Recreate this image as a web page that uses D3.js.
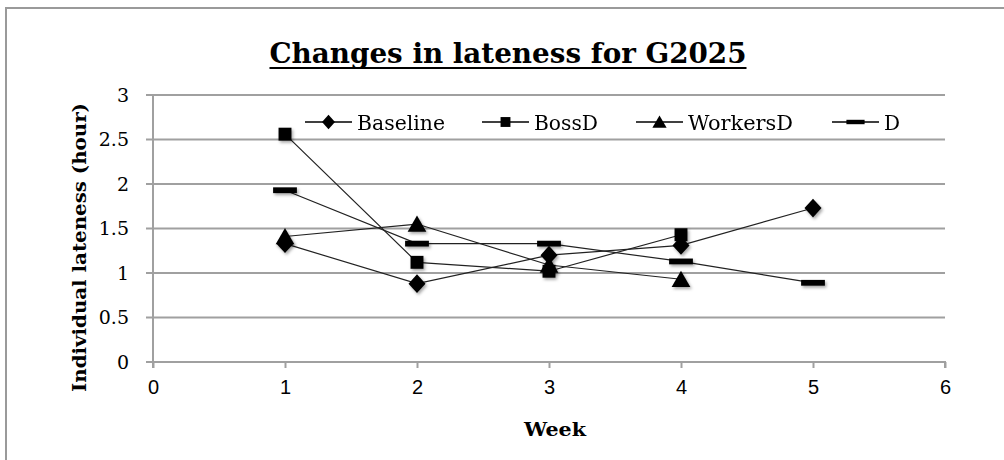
<!DOCTYPE html>
<html>
<head>
<meta charset="utf-8">
<script src="https://cdn.jsdelivr.net/npm/d3@7"></script>
<style>
  body { margin: 0; background: #fff; }
  svg { display: block; }
</style>
</head>
<body>
<svg id="chart"></svg>
<script>
const weeks = [1, 2, 3, 4, 5];
const baseline = [1.33, 0.88, 1.2, 1.31, 1.73];
const bossD = [2.56, 1.12, 1.02, 1.43];
const workersD = [1.41, 1.55, 1.09, 0.93];
const dOnly = [1.93, 1.33, 1.33, 1.13, 0.89];
const seriesNames = ["Baseline", "BossD", "WorkersD", "D"];
const xTicks = [0, 1, 2, 3, 4, 5, 6];
const yTicks = [0, 0.5, 1, 1.5, 2, 2.5, 3];

const width = 1004;
const height = 460;
const margin = { top: 95, right: 59, bottom: 98, left: 153 };

const series = [
  { name: seriesNames[0], values: baseline, shape: "diamond" },
  { name: seriesNames[1], values: bossD, shape: "square" },
  { name: seriesNames[2], values: workersD, shape: "triangle" },
  { name: seriesNames[3], values: dOnly, shape: "dash" }
];

const svg = d3.select("#chart").attr("width", width).attr("height", height);

const defs = svg.append("defs");
const shadow = defs.append("filter").attr("id", "shadow")
  .attr("x", "-50%").attr("y", "-50%").attr("width", "200%").attr("height", "200%");
shadow.append("feDropShadow")
  .attr("dx", 1.5).attr("dy", 2).attr("stdDeviation", 1.5)
  .attr("flood-color", "#000").attr("flood-opacity", 0.35);

// chart frame
svg.append("rect")
  .attr("x", 6).attr("y", 8)
  .attr("width", width + 20).attr("height", height + 20)
  .attr("fill", "none").attr("stroke", "#9a9a9a").attr("stroke-width", 2);

const xScale = d3.scaleLinear().domain([0, 6]).range([margin.left, width - margin.right]);
const yScale = d3.scaleLinear().domain([0, 3]).range([height - margin.bottom, margin.top]);

// gridlines
svg.append("g")
  .selectAll("line")
  .data(yTicks.filter(d => d > 0))
  .join("line")
  .attr("x1", xScale(0) - 7).attr("x2", xScale(6))
  .attr("y1", d => yScale(d)).attr("y2", d => yScale(d))
  .attr("stroke", "#a0a0a0").attr("stroke-width", 2);

// x axis
const xAxis = d3.axisBottom(xScale).tickValues(xTicks).tickSize(6).tickPadding(12)
  .tickFormat(d3.format("d"));
const gx = svg.append("g")
  .attr("transform", `translate(0, ${yScale(0)})`)
  .call(xAxis);
gx.select(".domain").attr("stroke", "#a0a0a0").attr("stroke-width", 2)
  .attr("d", `M${xScale(0) - 7},0H${xScale(6)}V6`);
gx.selectAll(".tick line").attr("stroke", "#a0a0a0").attr("stroke-width", 2);
gx.selectAll(".tick text")
  .attr("fill", "#000")
  .style("font-family", "'Liberation Sans', Arial, sans-serif")
  .style("font-size", "20px");

// y axis
const yAxis = d3.axisLeft(yScale).tickValues(yTicks).tickSize(0).tickPadding(24)
  .tickFormat(d => d);
const gy = svg.append("g")
  .attr("transform", `translate(${xScale(0)}, 0)`)
  .call(yAxis);
gy.select(".domain").attr("stroke", "#a0a0a0").attr("stroke-width", 2)
  .attr("d", `M0,${yScale(3)}V${yScale(0) + 6}`);
gy.selectAll(".tick text")
  .attr("fill", "#000")
  .style("font-family", "'DejaVu Serif', serif")
  .style("font-size", "19px");

// axis titles
svg.append("text")
  .attr("transform", `translate(79, ${(yScale(0) + yScale(3)) / 2 + 19}) rotate(-90)`)
  .attr("text-anchor", "middle")
  .attr("dominant-baseline", "central")
  .style("font-family", "'DejaVu Serif', serif")
  .style("font-weight", "bold")
  .style("font-size", "18px")
  .attr("textLength", 289)
  .attr("lengthAdjust", "spacingAndGlyphs")
  .text("Individual lateness (hour)");

svg.append("text")
  .attr("x", (xScale(0) + xScale(6)) / 2 + 6)
  .attr("y", 436)
  .attr("text-anchor", "middle")
  .style("font-family", "'DejaVu Serif', serif")
  .style("font-weight", "bold")
  .style("font-size", "19px")
  .attr("textLength", 62)
  .attr("lengthAdjust", "spacingAndGlyphs")
  .text("Week");

// title
svg.append("text")
  .attr("x", 508)
  .attr("y", 63)
  .attr("text-anchor", "middle")
  .style("font-family", "'DejaVu Serif', serif")
  .style("font-weight", "bold")
  .style("font-size", "28px")
  .attr("textLength", 477)
  .attr("lengthAdjust", "spacingAndGlyphs")
  .text("Changes in lateness for G2025");
svg.append("line")
  .attr("x1", 508 - 238.5).attr("x2", 508 + 238.5)
  .attr("y1", 68).attr("y2", 68)
  .attr("stroke", "#000").attr("stroke-width", 2);

function markerPath(shape, s) {
  if (shape === "diamond") return `M0,${-s * 0.55}L${s * 0.5},0L0,${s * 0.55}L${-s * 0.5},0Z`;
  if (shape === "square") { const h = s * 0.38; return `M${-h},${-h}H${h}V${h}H${-h}Z`; }
  if (shape === "triangle") return `M0,${-s * 0.5}L${s * 0.55},${s * 0.45}H${-s * 0.55}Z`;
  return `M${-s * 0.7},${-s * 0.17}H${s * 0.7}V${s * 0.17}H${-s * 0.7}Z`;
}

const line = d3.line()
  .x((d, i) => xScale(weeks[i]))
  .y(d => yScale(d));

const plot = svg.append("g");
series.forEach(s => {
  plot.append("path")
    .datum(s.values)
    .attr("d", line)
    .attr("fill", "none")
    .attr("stroke", "#222")
    .attr("stroke-width", 1.2);
});
series.forEach(s => {
  plot.append("g")
    .attr("filter", "url(#shadow)")
    .selectAll("path")
    .data(s.values)
    .join("path")
    .attr("transform", (d, i) => `translate(${xScale(weeks[i])}, ${yScale(d)})`)
    .attr("d", markerPath(s.shape, 17))
    .attr("fill", "#000");
});

// legend
const legendX = [305, 482, 636, 832];
const legendW = [88, 64, 105, null];
const legendY = 122;
const legend = svg.append("g")
  .selectAll("g")
  .data(series)
  .join("g")
  .attr("transform", (d, i) => `translate(${legendX[i]}, ${legendY})`);
legend.append("line")
  .attr("x1", 0).attr("x2", 47)
  .attr("stroke", "#000").attr("stroke-width", 1.5);
legend.append("path")
  .attr("transform", "translate(23.5, 0)")
  .attr("d", d => markerPath(d.shape, 13))
  .attr("fill", "#000");
legend.append("text")
  .attr("x", 52)
  .attr("y", 1)
  .attr("dominant-baseline", "central")
  .style("font-family", "'DejaVu Serif', serif")
  .style("font-size", "20px")
  .attr("textLength", (d, i) => legendW[i])
  .attr("lengthAdjust", (d, i) => legendW[i] ? "spacingAndGlyphs" : null)
  .text(d => d.name);
</script>
</body>
</html>
